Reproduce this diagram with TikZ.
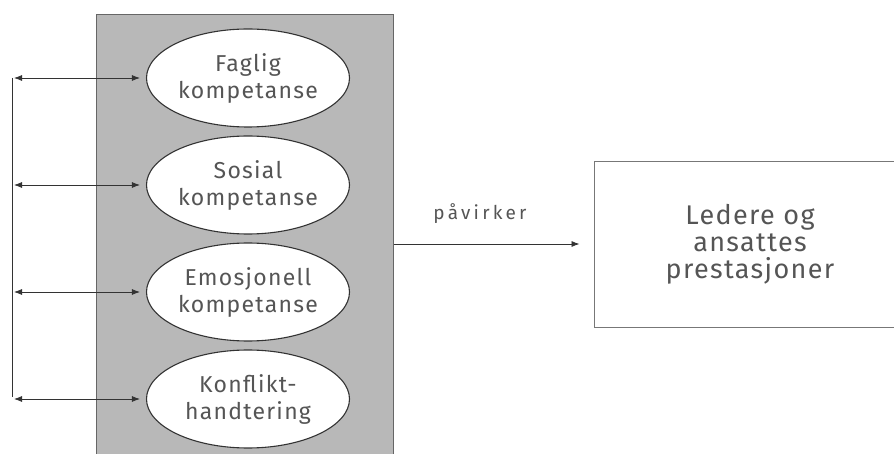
\documentclass[tikz,border=0pt]{standalone}
\usepackage{fontspec}
\setmainfont{Fira Sans}[LetterSpace=3]
\newfontfamily\compfont{Fira Sans}[LetterSpace=5.5]
\newfontfamily\outfont{Fira Sans}[LetterSpace=5]
\newfontfamily\labelfont{Fira Sans}[LetterSpace=17]
\usetikzlibrary{arrows.meta,shapes.geometric}
\definecolor{panelgray}{HTML}{B8B8B8}
\definecolor{ink}{HTML}{555555}
\definecolor{rule}{HTML}{333333}
\begin{document}
\begin{tikzpicture}[x=1pt,y=-1pt,
  tip/.tip={Latex[length=8pt,width=6pt]},
  comp/.style={ellipse,draw=rule,line width=1.1pt,fill=white,
    minimum width=203pt,minimum height=98pt,inner sep=0pt,align=center,
    font=\compfont\fontsize{23}{27}\selectfont,text=ink},
  link/.style={draw=rule,line width=0.8pt,{tip}-{tip},shorten >=6pt,shorten <=2pt},
  outcome/.style={draw=ink!80,line width=0.9pt,rectangle,
    minimum width=312pt,minimum height=166pt,inner sep=0pt,align=center,
    font=\outfont\fontsize{27}{27}\selectfont,text=ink},
  effect/.style={draw=rule,line width=0.8pt,-{tip},shorten >=14pt}
]
\useasboundingbox (0,0) rectangle (894,454);
\clip (0,0) rectangle (894,454);

% shaded panel holding the four competences
\node[draw=ink!90,line width=1.2pt,fill=panelgray,rectangle,inner sep=0pt,
  minimum width=297pt,minimum height=470pt,anchor=north west] (panel) at (96,14) {};

\node[comp] (faglig)     at (248,78)  {Faglig\\kompetanse};
\node[comp] (sosial)     at (248,185) {Sosial\\kompetanse};
\node[comp] (emosjonell) at (248,292) {Emosjonell\\kompetanse};
\node[comp] (konflikt)   at (248,399) {Konflikt-\\handtering};

% shared vertical connector on the left
\coordinate (c1) at (12,78);
\coordinate (c2) at (12,185);
\coordinate (c3) at (12,292);
\coordinate (c4) at (12,399);
\draw[draw=rule,line width=0.8pt] (c1) -- ([yshift=2pt]c4);

\draw[link] (c1) -- (faglig.west);
\draw[link] (c2) -- (sosial.west);
\draw[link] (c3) -- (emosjonell.west);
\draw[link] (c4) -- (konflikt.west);

% outcome box and influence arrow
\node[outcome] (perf) at (750,244) {Ledere og\\ansattes\\prestasjoner};
\draw[effect] (panel.east |- perf.west) -- (perf.west);
\node[font=\labelfont\fontsize{19}{22}\selectfont,text=ink] (lbl) at (480,214) {påvirker};
\end{tikzpicture}
\end{document}
